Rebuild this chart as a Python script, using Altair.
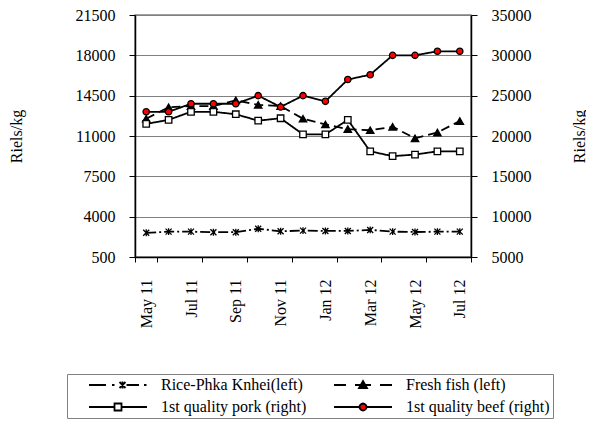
import altair as alt
import pandas as pd
import math

months = ["May 11", "Jun 11", "Jul 11", "Aug 11", "Sep 11", "Oct 11", "Nov 11", "Dec 11",
          "Jan 12", "Feb 12", "Mar 12", "Apr 12", "May 12", "Jun 12", "Jul 12"]
tick_labels = ["May 11", "Jul 11", "Sep 11", "Nov 11", "Jan 12", "Mar 12", "May 12", "Jul 12"]

series_names = ["Rice-Phka Knhei(left)", "Fresh fish (left)",
                "1st quality pork (right)", "1st quality beef (right)"]

rice = [2600, 2700, 2700, 2650, 2650, 2950, 2730, 2790, 2760, 2760, 2850, 2700, 2670, 2700, 2700]
fish = [12500, 13500, 13600, 13600, 14100, 13700, 13600, 12500, 12000, 11600, 11500, 11800, 10800, 11300, 12300]
pork = [21500, 22000, 23000, 23000, 22700, 21900, 22200, 20200, 20200, 22000, 18100, 17500, 17700, 18100, 18100]
beef = [23000, 23000, 24000, 24000, 24000, 25000, 23600, 25000, 24300, 27000, 27600, 30000, 30000, 30500, 30500]

left_ticks = [500, 4000, 7500, 11000, 14500, 18000, 21500]
right_ticks = [5000, 10000, 15000, 20000, 25000, 30000, 35000]

FONT = "Liberation Serif"

# ---- marker / legend symbol shapes (styles) ----
star_path = "M-1,-1L1,1M-1,1L1,-1M0,-1.15L0,1.15"

SYM_SIZE = 196          # legend symbol size -> unit radius 7 px, entry height 16 px
UR = math.sqrt(SYM_SIZE) / 2
CX = 8.0                # symbol centre inside a legend entry (before symbolOffset)
SYM_OFF = 19            # left gap before each legend symbol


def pt(x, y=0.0):
    return f"{(x - CX) / UR:.4f},{y / UR:.4f}"


def seg(a, b):
    return f"M{pt(a)}L{pt(b)}"


def star(c, h=3.0):
    return (f"M{pt(c - h, -h)}L{pt(c + h, h)}M{pt(c - h, h)}L{pt(c + h, -h)}"
            f"M{pt(c, -h - 0.5)}L{pt(c, h + 0.5)}")


def tri(c):
    return f"M{pt(c, -4)}L{pt(c + 4, 3)}L{pt(c - 4, 3)}Z"


def sq(c, h=3.5):
    return f"M{pt(c - h, -h)}L{pt(c + h, -h)}L{pt(c + h, h)}L{pt(c - h, h)}Z"


def circ(c, r=3.5, n=16):
    p = ""
    for i in range(n):
        a = 2 * math.pi * i / n
        p += ("M" if i == 0 else "L") + pt(c + r * math.cos(a), r * math.sin(a))
    return p + "Z"


legend_paths = [
    seg(0, 17) + seg(23, 25.5) + star(33.5) + seg(37.5, 50) + seg(55, 57.5),
    seg(0, 12) + seg(21, 37) + tri(29) + seg(46, 58),
    seg(0, 25.5) + sq(29) + seg(32.5, 58),
    seg(0, 25.5) + circ(29) + seg(32.5, 58),
]
fills = ["transparent", "black", "white", "#ff0000"]
marker_shapes = [star_path, "triangle-up", "square", "circle"]
marker_sizes = [36, 55, 42, 40]
dashes = [[10, 3, 2, 3], [9, 5], [1, 0], [1, 0]]

x_enc = alt.X("month:N", sort=months,
              scale=alt.Scale(type="band", paddingInner=0, paddingOuter=0),
              axis=alt.Axis(values=tick_labels, labelAngle=270, tickBand="extent",
                            tickSize=5, labelPadding=17, title=None, grid=False,
                            domainColor="black", domainWidth=1.5, tickColor="black"))

y_left = alt.Y("value:Q", scale=alt.Scale(domain=[500, 21500], nice=False, zero=False),
               axis=alt.Axis(values=left_ticks, format="d", title="Riels/kg", orient="left",
                             titleAngle=270, titleX=-118.5, titleY=121, titleAlign="center",
                             titleBaseline="middle", titleFont=FONT, titleFontSize=16,
                             titleFontWeight="normal", titleColor="black",
                             tickSize=6, labelPadding=14, grid=True, gridColor="#808080",
                             gridWidth=1, domainColor="black", domainWidth=1.5,
                             tickColor="black"))
y_right = alt.Y("value:Q", scale=alt.Scale(domain=[5000, 35000], nice=False, zero=False),
                axis=alt.Axis(values=right_ticks, format="d", title="Riels/kg", orient="right",
                              titleAngle=270, titleX=108, titleY=121, titleAlign="center",
                              titleBaseline="middle", titleFont=FONT, titleFontSize=16,
                              titleFontWeight="normal", titleColor="black",
                              tickSize=6, labelPadding=14, grid=False,
                              domainColor="black", domainWidth=1.5, tickColor="black"))


def series_layers(i, vals, y_enc):
    df = pd.DataFrame({"month": months, "value": vals, "series": series_names[i]})
    base = alt.Chart(df).encode(x=x_enc, y=y_enc)
    line = base.mark_line(color="black", strokeWidth=1.8, strokeDash=dashes[i])
    pts = base.mark_point(filled=True, stroke="black", strokeWidth=1.3, opacity=1,
                          shape=marker_shapes[i], size=marker_sizes[i], fill=fills[i])
    return [line, pts]


left = alt.layer(*(series_layers(0, rice, y_left) + series_layers(1, fish, y_left)))
right = alt.layer(*(series_layers(2, pork, y_right) + series_layers(3, beef, y_right)))

legend = alt.Legend(
    title=None,
    orient="none", legendX=-68, legendY=359, direction="horizontal",
    columns=2, padding=3, rowPadding=6, columnPadding=8,
    strokeColor="#808080", fillColor="white",
    labelFont=FONT, labelFontSize=16, labelColor="black",
    labelOffset=56, labelLimit=400,
    symbolSize=SYM_SIZE, symbolStrokeWidth=1.8, symbolOpacity=1, symbolOffset=SYM_OFF,
)

legend_df = pd.DataFrame({"series": series_names})
dummy = alt.Chart(legend_df).transform_filter("false").mark_point(
    filled=True, strokeWidth=1.8, opacity=1
).encode(
    shape=alt.Shape("series:N", scale=alt.Scale(domain=series_names, range=legend_paths),
                    legend=legend),
    fill=alt.Fill("series:N", scale=alt.Scale(domain=series_names, range=fills),
                  legend=legend),
    stroke=alt.Stroke("series:N", scale=alt.Scale(domain=series_names, range=["black"] * 4),
                      legend=legend),
)

chart = alt.layer(left, right, dummy).resolve_scale(y="independent").properties(
    width=336, height=242,
    autosize=alt.AutoSizeParams(type="none"),
    padding={"left": 127, "top": 7, "right": 115, "bottom": 162},
).configure(font=FONT).configure_view(
    stroke="#808080", strokeWidth=1.5
).configure_axis(
    labelFont=FONT, labelFontSize=16, labelColor="black"
)

chart.save("out.html", embed_options={"renderer": "svg", "actions": False})
